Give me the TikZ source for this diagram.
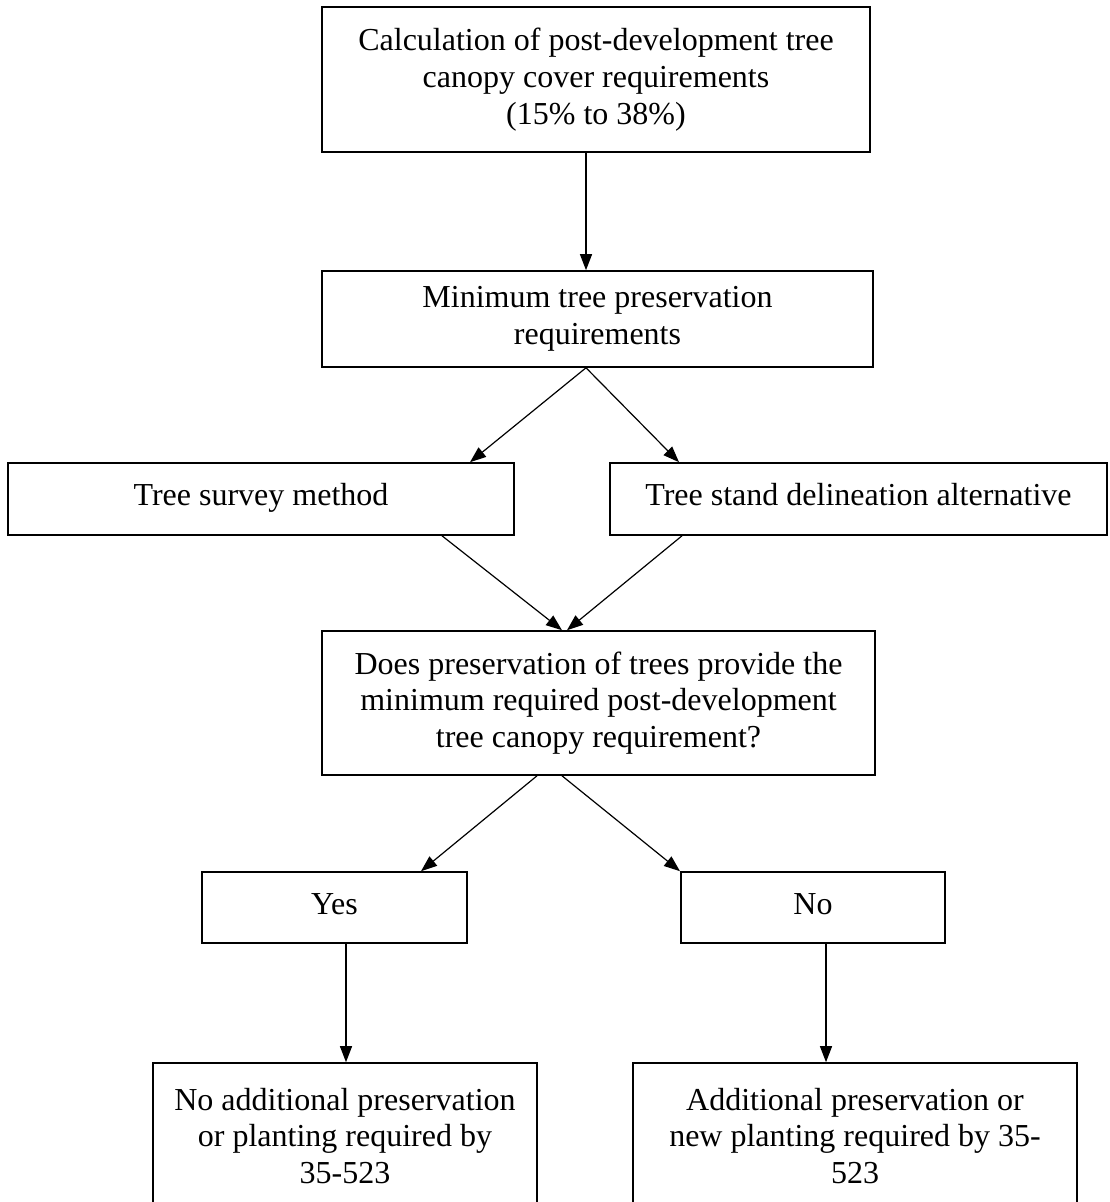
\documentclass[tikz,border=0pt]{standalone}
\usepackage{fontspec}
\setmainfont{Liberation Serif}
\usetikzlibrary{arrows.meta,calc}
\newcommand{\boxfont}{\fontsize{16}{18.4}\selectfont}

\begin{document}
\begin{tikzpicture}[x=0.5pt,y=-0.5pt,
  box/.style={draw,line width=0.8pt,inner sep=0pt,align=center,font=\boxfont},
  oneline/.style={box,text height=10pt,text depth=3.5pt},
  arr/.style={-{Triangle[length=8pt,width=6pt]},line width=0.6pt}]
\useasboundingbox (0,0) rectangle (1109,1202);
\clip (0,0) rectangle (1109,1202);
% boxes
\node[box,minimum width=274pt,minimum height=72.5pt] (canopy) at (596,79.5)
  {Calculation of post-development tree\\ canopy cover requirements\\ (15\% to 38\%)};
\node[box,minimum width=275.5pt,minimum height=48pt] (minpres) at (597.5,319)
  {Minimum tree preservation\\ requirements};
\node[oneline,minimum width=253pt,minimum height=36pt] (survey) at (261,499)
  {Tree survey method};
\node[oneline,minimum width=248.5pt,minimum height=36pt] (stand) at (858.5,499)
  {Tree stand delineation alternative};
\node[box,minimum width=276.5pt,minimum height=72pt] (question) at (598.5,703)
  {Does preservation of trees provide the\\ minimum required post-development\\ tree canopy requirement?};
\node[oneline,minimum width=132.5pt,minimum height=35.5pt] (yes) at (334.5,907.5) {Yes};
\node[oneline,minimum width=132pt,minimum height=35.5pt] (no) at (813,907.5) {No};
\node[box,minimum width=192pt,minimum height=73pt] (noextra) at (345,1136)
  {No additional preservation\\ or planting required by\\ 35-523};
\node[box,minimum width=222pt,minimum height=73pt] (addplant) at (855,1136)
  {Additional preservation or\\ new planting required by 35-\\ 523};
% arrows
\draw[arr] ($(canopy.south)+(-10,0)$) -- ($(minpres.north)+(-11.5,0)$);
\draw[arr] ($(minpres.south)+(-11.5,0)$) -- ($(survey.north)+(209,0)$);
\draw[arr] ($(minpres.south)+(-11.5,0)$) -- ($(stand.north)+(-179.5,0)$);
\draw[arr] ($(survey.south)+(181,0)$) -- ($(question.north)+(-36.5,0)$);
\draw[arr] ($(stand.south)+(-176.5,0)$) -- ($(question.north)+(-31.5,0)$);
\draw[arr] ($(question.south)+(-61.5,0)$) -- ($(yes.north)+(86.5,0)$);
\draw[arr] ($(question.south)+(-36.5,0)$) -- ($(no.north)+(-133,0)$);
\draw[arr] ($(yes.south)+(11.5,0)$) -- ($(noextra.north)+(1,0)$);
\draw[arr] ($(no.south)+(13,0)$) -- ($(addplant.north)+(-29,0)$);
\end{tikzpicture}
\end{document}
